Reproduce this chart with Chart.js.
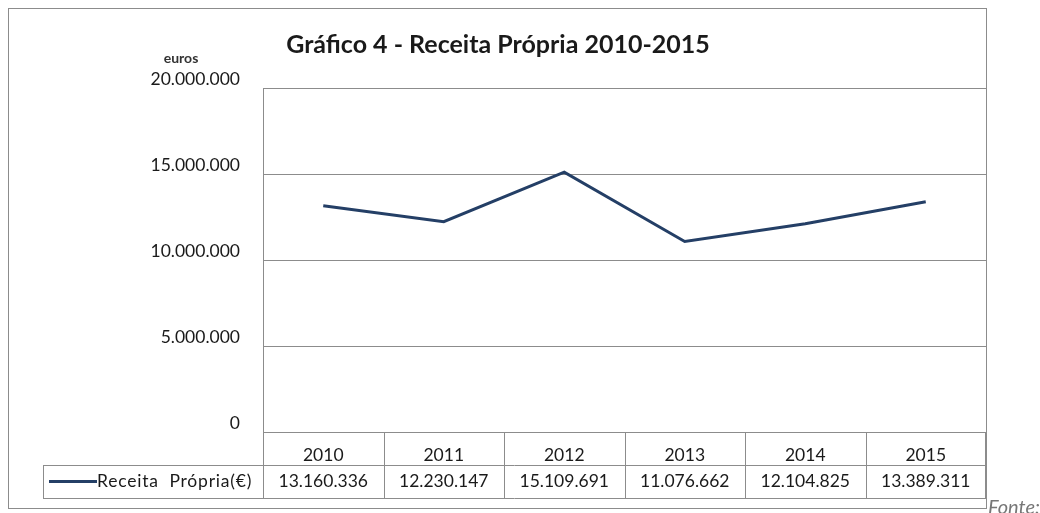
<!DOCTYPE html>
<html lang="pt">
<head>
<meta charset="UTF-8">
<title>Gráfico 4 - Receita Própria 2010-2015</title>
<script src="https://cdn.jsdelivr.net/npm/chart.js"></script>
<style>
  html, body { margin: 0; padding: 0; background: #fff; }
  #wrap { position: relative; width: 1040px; height: 513px; }
  #fonte { position: absolute; left: 988px; top: 494px; font: italic 20px Lato, sans-serif; color: #777; }
</style>
</head>
<body>
<div id="wrap">
  <canvas id="chart" width="1040" height="513"></canvas>
  <div id="fonte">Fonte:</div>
</div>
<script>
const years = ['2010', '2011', '2012', '2013', '2014', '2015'];
const receitaPropria = [13160336, 12230147, 15109691, 11076662, 12104825, 13389311];
const yTicks = [0, 5000000, 10000000, 15000000, 20000000];
const seriesName = 'Receita  Própria(€)';

const FONT = 'Lato, "Open Sans", sans-serif';
const LINE = '#243F66';
const GRID = '#8c8c8c';
const TXT = 17.5;

function fmt(n) {
    return String(n).replace(/\B(?=(\d{3})+(?!\d))/g, '.');
}

// frame, title, "euros" and the data table under the axis
const tablePlugin = {
    id: 'tablePlugin',
    afterDraw(chart) {
        const ctx = chart.ctx;
        const x = chart.scales.x;
        const area = chart.chartArea;
        const half = (x.getPixelForValue(1) - x.getPixelForValue(0)) / 2;
        const rowH = 33;
        const top = area.bottom;
        const mid = top + rowH;
        const bot = mid + rowH;
        ctx.save();
        ctx.strokeStyle = GRID;
        ctx.lineWidth = 1;

        // outer chart frame
        ctx.strokeRect(8.5, 8.5, area.right - 8, 500);

        // table grid
        ctx.beginPath();
        ctx.moveTo(area.left, top + 0.5);
        ctx.lineTo(area.right, top + 0.5);
        ctx.moveTo(43, mid + 0.5);
        ctx.lineTo(area.right, mid + 0.5);
        ctx.moveTo(43, bot + 0.5);
        ctx.lineTo(area.right, bot + 0.5);
        ctx.moveTo(43.5, mid);
        ctx.lineTo(43.5, bot);
        years.forEach((y, i) => {
            const px = Math.round(x.getPixelForValue(i) - half) + 0.5;
            ctx.moveTo(px, top);
            ctx.lineTo(px, bot);
        });
        ctx.moveTo(area.right - 0.5, top);
        ctx.lineTo(area.right - 0.5, bot);
        ctx.stroke();

        // legend cell
        ctx.strokeStyle = LINE;
        ctx.lineWidth = 3;
        ctx.beginPath();
        ctx.moveTo(49, mid + rowH / 2);
        ctx.lineTo(97, mid + rowH / 2);
        ctx.stroke();

        ctx.fillStyle = '#1a1a1a';
        ctx.font = TXT + 'px ' + FONT;
        ctx.textBaseline = 'middle';
        ctx.textAlign = 'left';
        ctx.letterSpacing = '0.8px';
        ctx.fillText(seriesName, 97, mid + rowH / 2);
        ctx.letterSpacing = '0px';

        // values row
        ctx.textAlign = 'center';
        receitaPropria.forEach((v, i) => {
            ctx.fillText(fmt(v), x.getPixelForValue(i), mid + rowH / 2);
        });

        // title and unit
        ctx.font = 'bold 25px ' + FONT;
        ctx.fillText('Gráfico 4 - Receita Própria 2010-2015', 498, 45);
        ctx.font = 'bold 14px ' + FONT;
        ctx.fillStyle = '#333';
        ctx.fillText('euros', 181, 58);
        ctx.restore();
    }
};

new Chart(document.getElementById('chart'), {
    type: 'line',
    data: {
        labels: years,
        datasets: [{
            label: seriesName,
            data: receitaPropria,
            borderColor: LINE,
            borderWidth: 3,
            pointRadius: 0,
            tension: 0,
            fill: false
        }]
    },
    options: {
        responsive: false,
        animation: false,
        layout: { padding: { left: 0, right: 54, top: 88, bottom: 0 } },
        plugins: { legend: { display: false }, tooltip: { enabled: false } },
        scales: {
            x: {
                offset: true,
                grid: { display: false },
                border: { display: false },
                ticks: { color: '#1a1a1a', font: { family: FONT, size: TXT }, padding: 5 },
                afterFit(s) { s.height = 81; }
            },
            y: {
                min: 0,
                max: 20000000,
                afterBuildTicks(s) { s.ticks = yTicks.map(v => ({ value: v })); },
                grid: { color: GRID, drawTicks: false },
                border: { display: true, color: GRID },
                ticks: {
                    color: '#1a1a1a',
                    font: { family: FONT, size: TXT },
                    padding: 23,
                    labelOffset: -9,
                    callback: v => fmt(v)
                },
                afterFit(s) { s.width = 263; }
            }
        }
    },
    plugins: [tablePlugin]
});
</script>
</body>
</html>
